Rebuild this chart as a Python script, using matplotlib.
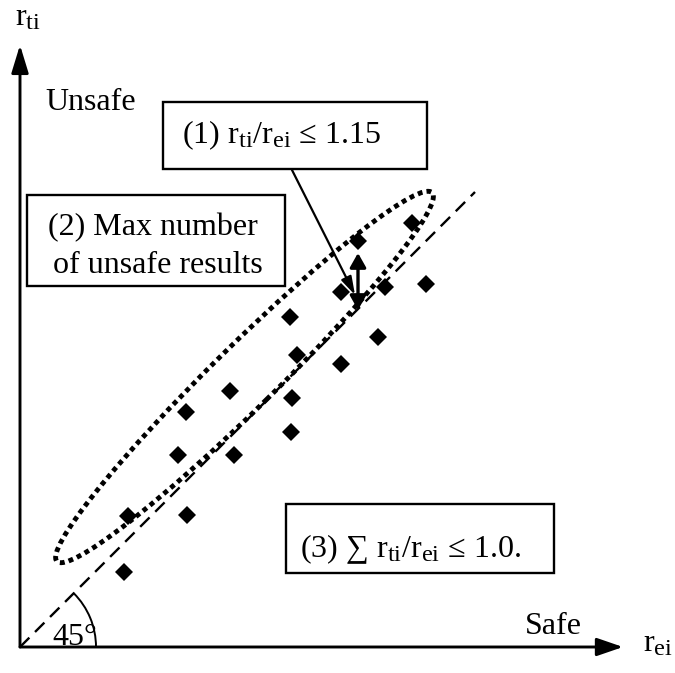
import matplotlib
matplotlib.use('Agg')
import matplotlib.pyplot as plt
from matplotlib.patches import Ellipse, Rectangle, Arc, ArrowStyle

plt.rcParams['font.family'] = ['Liberation Serif', 'DejaVu Serif']
plt.rcParams['mathtext.fontset'] = 'custom'
plt.rcParams['mathtext.rm'] = 'Liberation Serif'
plt.rcParams['mathtext.it'] = 'Liberation Serif:italic'
plt.rcParams['mathtext.bf'] = 'Liberation Serif:bold'

# larger, lower subscripts (closer to the reference typesetting)
try:
    import matplotlib._mathtext as _mt
    _mt.FontConstantsBase.subdrop = 0.8
    _mt.SHRINK_FACTOR = 0.76
except Exception:
    pass

# ---- data (schematic units) ----
r_ei = [3.38, 3.92, 3.21, 3.65, 4.06, 2.70, 3.58, 2.77, 3.21,
        2.10, 1.66, 2.72, 2.71, 1.58, 2.14, 1.08, 1.67, 1.04]
r_ti = [4.06, 4.24, 3.55, 3.60, 3.63, 3.30, 3.10, 2.92, 2.83,
        2.56, 2.35, 2.49, 2.15, 1.92, 1.92, 1.31, 1.32, 0.75]

diag_end = 4.55            # extent of the 45-degree reference line
ratio_pair = [3.37, 3.94]  # r_ti range shown by the double arrow
ratio_x = 3.38

x_label = r'r$_\mathrm{ei}$'
y_label = r'r$_\mathrm{ti}$'
unsafe_label = 'Unsafe'
safe_label = 'Safe'
angle_label = '45°'
box1_text = r'(1) r$_\mathrm{ti}$/r$_\mathrm{ei}$ ≤ 1.15'
box2_lines = ['(2) Max number', 'of unsafe results']
box3_text = r'(3) ∑ r$_\mathrm{ti}$/r$_\mathrm{ei}$ ≤ 1.0.'

FS = 23

fig = plt.figure(figsize=(6.75, 6.73), dpi=100)
ax = fig.add_axes([0, 0, 1, 1])
ax.set_xlim(-0.20, 6.55)
ax.set_ylim(-0.26, 6.47)
ax.axis('off')

# axes arrows
ax.annotate('', xy=(6.03, 0), xytext=(0, 0),
            arrowprops=dict(arrowstyle=ArrowStyle('-|>', head_length=16, head_width=5.5),
                            lw=2.1, color='black', shrinkA=0, shrinkB=0, mutation_scale=1))
ax.annotate('', xy=(0, 6.02), xytext=(0, 0),
            arrowprops=dict(arrowstyle=ArrowStyle('-|>', head_length=17, head_width=5.2),
                            lw=2.1, color='black', shrinkA=0, shrinkB=0, mutation_scale=1))

# 45 degree line
ax.plot([0, diag_end], [0, diag_end], color='black', lw=1.7, dashes=(5.6, 3.4),
        dash_capstyle='butt')

# angle arc
ax.add_patch(Arc((0, 0), 1.52, 1.52, theta1=0, theta2=45, color='black', lw=1.4))

# dotted ellipse
ax.add_patch(Ellipse((2.245, 2.70), 5.26, 0.63, angle=44.5, fill=False,
                     edgecolor='black', lw=3.5, linestyle=(0, (1, 0.85))))

# data points
ax.plot(r_ei, r_ti, linestyle='none', marker='D', ms=9.4, mew=0, color='black', zorder=3)

# double arrow
ax.annotate('', xy=(ratio_x, ratio_pair[1]), xytext=(ratio_x, ratio_pair[0]),
            arrowprops=dict(arrowstyle=ArrowStyle('<|-|>', head_length=8.5, head_width=4.8),
                            lw=2.4, color='black', shrinkA=0, shrinkB=0, mutation_scale=1),
            zorder=4)

# boxes
box_lw = 1.7
ax.add_patch(Rectangle((1.43, 4.78), 2.64, 0.67, fill=False, edgecolor='black', lw=box_lw))
ax.add_patch(Rectangle((0.07, 3.61), 2.58, 0.91, fill=False, edgecolor='black', lw=box_lw))
ax.add_patch(Rectangle((2.66, 0.74), 2.68, 0.69, fill=False, edgecolor='black', lw=box_lw))

# pointer arrow from box (1)
ax.annotate('', xy=(3.35, 3.52), xytext=(2.72, 4.77),
            arrowprops=dict(arrowstyle=ArrowStyle('-|>', head_length=11, head_width=3.3),
                            lw=1.6, color='black', shrinkA=0, shrinkB=0, mutation_scale=1))

# texts
ax.text(1.62, 5.04, box1_text, fontsize=FS, ha='left', va='baseline')
ax.text(0.28, 4.12, box2_lines[0], fontsize=FS, ha='left', va='baseline')
ax.text(0.33, 3.74, box2_lines[1], fontsize=FS, ha='left', va='baseline')
ax.text(2.80, 0.90, box3_text, fontsize=FS, ha='left', va='baseline')
ax.text(0.25, 5.37, unsafe_label, fontsize=FS, ha='left', va='baseline')
ax.text(5.05, 0.13, safe_label, fontsize=FS, ha='left', va='baseline')
ax.text(0.32, 0.02, angle_label, fontsize=FS, ha='left', va='baseline')
ax.text(-0.05, 6.21, y_label, fontsize=FS, ha='left', va='baseline')
ax.text(6.23, -0.04, x_label, fontsize=FS, ha='left', va='baseline')

fig.savefig('out.png', dpi=100)
